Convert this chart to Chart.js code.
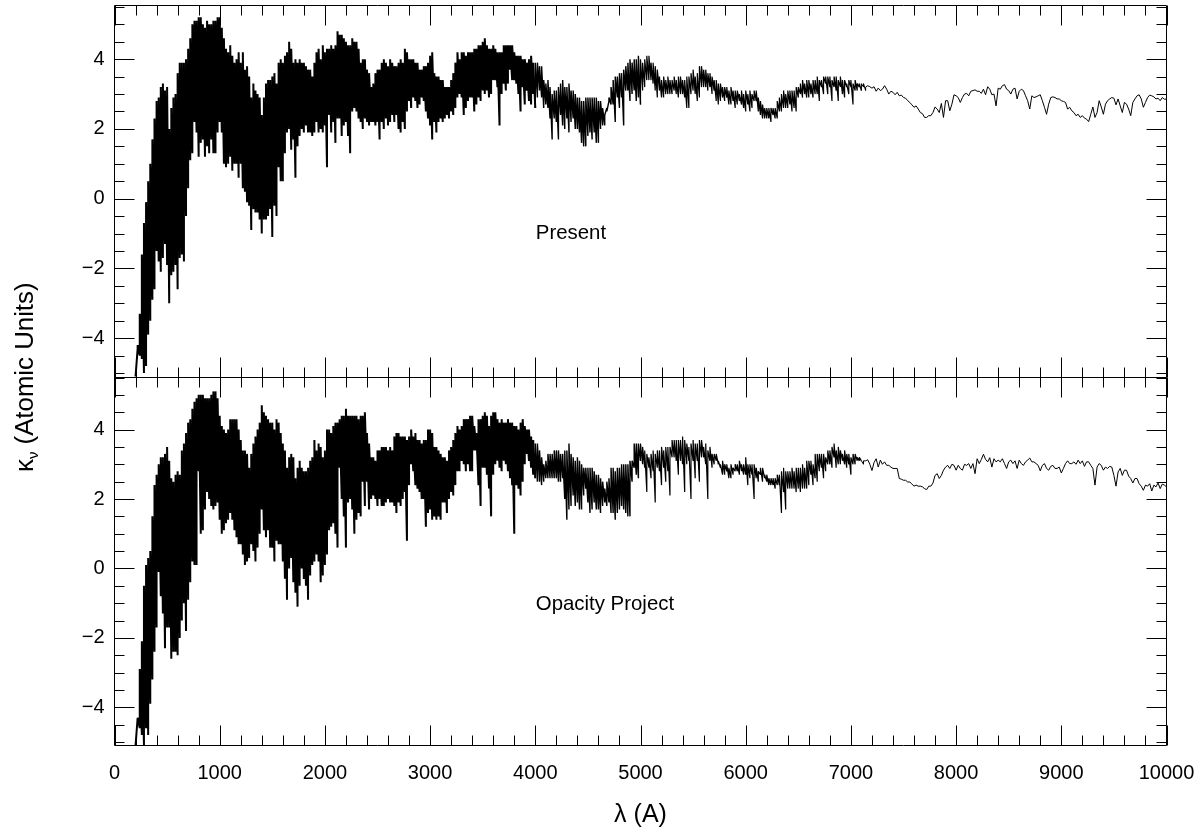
<!DOCTYPE html>
<html>
<head>
<meta charset="utf-8">
<title>Opacity spectra</title>
<script src="https://cdn.jsdelivr.net/npm/chart.js@4"></script>
<style>
  body { margin: 0; background: #fff; }
  canvas { display: block; }
</style>
</head>
<body>
<canvas id="spectra" width="1201" height="831"></canvas>
<script>
// dense part of the spectra, one high and one low reading per 20 A column,
// each row holds 200 A, first row starts at 200 A
const presentHigh = [
  -5.1,-4.2,-3.3,-1.6,-0.7,-0.1,0.5,1.0,1.7,2.3,
  2.8,2.9,3.2,3.3,3.1,3.2,2.0,2.6,2.9,3.0,
  3.6,3.9,3.9,3.9,4.0,4.3,4.6,5.0,5.1,5.1,
  5.2,5.2,5.0,4.9,5.1,5.0,5.0,5.1,5.1,5.2,
  5.2,4.9,4.6,4.3,4.2,4.4,4.1,3.9,4.0,4.2,
  3.9,4.2,3.7,3.8,3.5,2.9,3.3,3.1,3.0,2.9,
  2.4,2.9,3.3,3.4,3.4,3.5,3.6,3.3,3.9,4.0,
  3.9,4.1,4.2,4.5,4.3,3.9,4.0,3.9,4.0,3.9,
  3.9,3.8,3.7,3.7,3.5,3.9,4.2,4.3,4.0,4.4,
  4.2,4.3,4.3,4.4,4.3,4.4,4.8,4.7,4.7,4.6,
  4.5,4.4,4.4,4.6,4.5,4.5,4.3,3.9,4.0,4.0,
  3.7,3.6,3.2,3.3,3.6,3.7,3.7,3.9,4.0,3.9,
  3.8,4.0,3.9,3.8,3.8,3.9,4.0,3.9,4.3,4.2,
  4.0,4.0,4.0,3.9,3.9,3.7,3.7,3.8,3.8,3.9,
  4.1,4.2,3.6,3.5,3.5,3.4,3.4,3.2,3.2,3.2,
  3.4,3.6,3.9,4.2,4.0,4.2,4.2,4.1,4.2,4.2,
  4.2,4.3,4.3,4.4,4.4,4.5,4.6,4.4,4.3,4.3,
  4.4,4.3,4.2,4.2,4.2,4.4,4.4,4.4,4.4,4.4,
  4.2,4.1,4.1,4.1,4.0,4.0,3.9,4.0,4.1,3.9,
  3.9,3.9,3.8,3.8,3.4,3.3,3.4,3.2,3.0,3.1,
  3.1,3.2,3.3,3.4,3.2,3.2,3.3,3.1,3.1,3.0,
  2.9,2.9,2.8,2.8,2.9,2.9,2.9,2.9,2.9,2.9,
  2.8,2.8,2.6,2.4,2.5,2.9,3.2,3.4,3.5,3.5,
  3.6,3.6,3.7,3.8,3.9,4.0,3.9,4.0,4.0,4.1,
  4.0,3.9,4.0,4.1,4.1,3.9,3.9,3.8,3.7,3.5,
  3.4,3.5,3.4,3.5,3.4,3.4,3.5,3.4,3.5,3.5,
  3.4,3.4,3.5,3.5,3.6,3.7,3.5,3.6,3.8,3.8,
  3.7,3.7,3.6,3.6,3.5,3.4,3.4,3.3,3.3,3.2,
  3.2,3.2,3.1,3.2,3.1,3.1,3.1,3.0,3.1,3.0,
  3.1,3.0,3.1,3.0,3.1,3.1,2.9,2.8,2.7,2.6,
  2.6,2.6,2.6,2.6,2.6,2.8,2.9,3.0,3.1,3.0,
  3.1,3.1,3.1,3.1,3.2,3.2,3.3,3.4,3.3,3.4,
  3.4,3.3,3.4,3.4,3.5,3.4,3.4,3.5,3.5,3.5,
  3.5,3.4,3.5,3.5,3.4,3.5,3.4,3.4,3.3,3.4,
  3.4,3.3,3.4,3.3,3.3,3.3,3.3,3.2
];
const presentLow = [
  -5.1,-4.3,-4.5,-4.6,-5.0,-4.8,-3.9,-3.5,-2.9,-2.6,
  -1.5,-1.8,-2.1,-1.7,-1.3,-1.9,-3.0,-2.2,-2.1,-1.9,
  -2.6,-1.7,-1.6,-1.8,-0.5,0.3,1.1,1.3,2.2,1.9,
  1.2,1.6,1.7,1.2,1.5,1.3,1.7,1.3,1.3,1.9,
  2.2,1.9,1.0,0.9,1.0,1.2,0.8,1.0,1.0,0.6,
  1.0,0.3,0.2,-0.1,-0.2,-0.9,-0.3,-0.4,-0.4,-0.6,
  -1.0,-0.6,-0.6,-0.5,-0.3,-1.1,-0.2,-0.5,0.9,0.5,
  0.5,1.3,1.9,2.0,1.4,1.7,0.6,1.5,1.8,2.0,
  1.9,2.1,1.9,1.9,1.8,1.9,2.2,1.9,2.0,1.9,
  2.1,0.9,2.4,1.9,2.2,1.6,2.3,2.3,1.8,2.1,
  2.2,1.8,1.3,2.5,2.6,2.5,2.3,2.2,2.0,2.3,
  2.2,2.1,2.2,2.2,2.1,2.2,1.7,2.2,2.0,2.3,
  2.1,2.2,2.4,2.2,2.4,2.0,1.9,2.2,2.0,2.5,
  2.8,2.6,2.9,2.8,2.6,2.7,2.9,2.8,2.5,2.3,
  2.1,1.7,2.2,1.9,2.2,2.3,2.2,2.3,2.4,2.3,
  2.5,2.4,2.6,2.9,3.0,2.9,2.4,2.6,2.8,2.9,
  2.9,2.5,2.7,2.9,2.8,3.1,3.0,3.1,2.9,3.0,
  3.4,3.4,3.2,2.1,3.0,3.3,3.1,3.3,3.7,3.4,
  3.4,3.3,3.0,2.5,3.2,2.7,3.1,2.8,2.7,3.0,
  2.6,2.9,3.1,2.9,2.6,2.7,2.6,2.3,1.7,2.3,
  2.2,1.7,2.4,2.1,2.0,2.3,1.9,2.2,2.3,2.0,
  2.0,1.9,1.6,1.5,1.5,1.8,1.9,1.7,1.9,1.6,
  1.6,2.0,2.1,2.1,2.6,2.8,2.7,2.7,2.2,2.9,
  2.6,2.9,2.1,3.1,3.1,2.8,3.0,3.1,2.8,2.9,
  2.7,3.1,3.2,3.4,3.4,3.4,3.3,3.1,2.9,3.1,
  2.9,2.9,3.0,3.0,3.0,3.0,3.1,3.0,2.9,3.0,
  3.0,2.9,2.6,2.6,3.0,3.1,3.0,2.8,2.9,3.2,
  3.2,3.2,3.1,3.2,3.0,3.1,2.8,2.7,2.8,2.9,
  2.8,2.9,2.7,2.7,2.8,2.6,2.7,2.8,2.7,2.6,
  2.5,2.7,2.5,2.6,2.8,2.8,2.5,2.4,2.3,2.3,
  2.3,2.3,2.2,2.4,2.3,2.3,2.5,2.5,2.6,2.6,
  2.6,2.7,2.5,2.6,2.5,2.9,3.0,2.9,3.0,2.9,
  2.9,3.0,2.9,3.0,3.0,2.8,3.2,3.0,3.3,3.0,
  3.2,2.8,3.2,3.1,2.8,3.2,3.0,2.9,3.2,3.0,
  3.2,2.7,3.1,3.1,3.2,3.1,3.2,3.1
];
const opacityHigh = [
  -5.1,-4.3,-2.9,-2.1,-0.5,0.1,0.3,0.5,1.5,2.4,
  2.7,3.0,3.2,3.2,3.3,3.5,3.1,2.6,2.5,2.7,
  2.8,2.7,3.4,3.6,3.9,4.2,4.3,4.6,4.8,4.9,
  5.0,5.0,5.0,4.9,4.9,4.9,5.0,5.1,5.1,4.9,
  4.4,4.1,4.0,3.9,4.0,4.3,4.3,4.3,4.3,4.0,
  3.7,3.4,3.4,3.3,2.9,3.3,3.6,3.8,4.0,4.2,
  4.7,4.5,4.4,4.3,4.2,4.2,4.0,4.3,4.2,3.9,
  3.6,3.4,2.9,3.2,3.3,3.2,2.6,2.9,3.1,2.9,
  2.8,2.8,2.9,3.1,3.2,3.7,3.4,3.6,3.5,3.2,
  3.4,4.0,4.0,3.9,4.1,4.2,4.2,4.3,4.4,4.4,
  4.6,4.4,4.4,4.4,4.4,4.4,4.3,4.4,4.4,4.5,
  3.9,3.6,3.2,3.2,3.1,3.4,3.4,3.5,3.5,3.5,
  3.4,3.5,3.4,3.8,3.9,3.9,3.8,3.8,3.8,3.7,
  3.8,4.0,3.8,3.9,3.7,3.7,3.6,3.7,3.7,4.0,
  4.0,3.9,3.5,3.5,3.4,3.3,3.2,3.2,3.1,3.4,
  3.5,3.7,3.9,4.1,4.0,4.1,4.3,4.3,4.3,4.4,
  4.4,4.1,3.9,4.3,4.3,4.4,4.5,4.4,4.1,4.4,
  4.5,4.5,4.3,4.2,4.3,4.2,4.2,4.3,4.2,4.2,
  4.1,4.1,4.0,4.2,4.3,4.1,4.0,4.0,3.8,3.7,
  3.6,3.6,3.4,3.2,3.0,3.1,3.3,3.3,3.3,3.4,
  3.4,3.4,3.3,3.3,3.4,3.4,3.6,3.3,3.2,3.1,
  3.2,3.1,3.0,2.9,2.9,2.9,2.9,2.9,2.8,2.7,
  2.7,2.6,2.5,2.3,2.5,2.6,2.9,2.9,2.8,2.9,
  2.9,3.0,3.0,3.0,3.0,3.1,3.1,3.6,3.6,3.6,
  3.6,3.5,3.4,3.3,3.2,3.3,3.4,3.3,3.4,3.4,
  3.5,3.4,3.5,3.5,3.5,3.7,3.7,3.7,3.7,3.7,
  3.8,3.7,3.6,3.5,3.6,3.7,3.6,3.6,3.7,3.7,
  3.5,3.6,3.4,3.5,3.3,3.3,3.3,3.1,3.0,3.1,
  3.0,3.0,2.9,3.0,2.9,3.0,3.0,3.1,3.0,3.0,
  3.2,3.0,3.0,3.0,3.0,2.9,2.8,2.9,2.9,2.7,
  2.7,2.6,2.6,2.6,2.6,2.7,2.7,2.8,2.9,2.8,
  2.8,2.8,2.9,2.8,2.9,2.9,2.9,3.0,2.9,3.1,
  3.1,3.1,3.0,3.3,3.3,3.3,3.3,3.3,3.2,3.4,
  3.4,3.5,3.6,3.4,3.5,3.4,3.3,3.4,3.3,3.3,
  3.2,3.3,3.3,3.2,3.2,3.1,3.1,3.1
];
const opacityLow = [
  -5.1,-4.3,-4.6,-4.8,-5.1,-4.6,-4.8,-3.9,-3.2,-2.4,
  -1.7,-0.1,-0.8,-1.3,-2.3,-1.7,-1.7,-2.6,-2.4,-2.4,
  -2.5,-2.0,-1.5,-1.0,-1.8,-0.9,-0.4,0.2,0.1,0.1,
  2.8,1.0,1.1,1.7,2.2,2.0,1.8,1.7,1.8,1.9,
  1.4,1.0,1.1,1.3,1.4,1.6,1.4,1.1,0.9,0.7,
  0.7,0.4,0.1,0.2,0.3,0.7,0.5,0.2,0.6,1.0,
  1.7,1.1,0.9,1.1,0.6,0.6,0.2,0.8,0.7,0.7,
  0.2,-0.3,-0.9,0.0,0.3,-0.4,-0.7,-1.1,-0.5,0.0,
  -0.3,-0.5,-0.9,-0.2,0.1,0.2,0.4,0.2,-0.4,-0.2,
  0.1,0.4,1.1,1.2,1.3,1.0,0.6,2.9,2.0,1.5,
  0.6,1.9,2.0,1.7,1.0,1.4,1.6,1.5,2.5,1.8,
  2.5,1.7,2.0,2.1,2.0,1.8,2.0,1.8,1.8,1.9,
  2.0,1.9,1.9,1.8,1.6,1.9,1.8,2.0,2.2,0.8,
  2.4,3.0,2.8,2.4,2.3,2.2,2.0,2.0,1.2,1.6,
  1.7,1.4,1.5,1.4,1.5,1.4,1.9,1.9,1.6,2.0,
  2.2,2.1,2.4,2.8,2.8,3.1,3.0,2.8,3.0,2.8,
  2.8,3.4,3.4,2.4,1.8,2.9,2.9,2.7,2.3,1.5,
  2.7,3.0,3.1,2.9,2.8,3.1,3.0,2.8,2.6,2.4,
  1.0,2.4,2.3,2.1,2.5,3.0,3.3,3.1,2.9,2.7,
  2.6,2.5,2.5,2.4,2.5,2.6,2.6,2.6,2.6,2.6,
  2.6,2.5,2.5,2.6,2.0,1.4,1.7,1.8,2.1,1.8,
  1.9,1.7,1.7,2.1,2.3,1.9,1.6,1.7,1.9,1.7,
  1.7,1.6,1.8,1.9,1.8,1.9,1.6,1.6,1.4,1.6,
  1.7,1.8,1.7,1.6,1.5,1.5,2.5,2.9,2.7,2.6,
  3.1,3.0,2.9,2.2,2.9,2.6,2.8,1.9,2.9,2.8,
  2.4,2.9,2.5,2.8,2.1,3.2,3.2,3.1,2.7,3.1,
  3.0,2.2,3.0,3.1,2.0,3.1,2.6,3.1,2.5,3.2,
  3.2,3.0,2.0,3.1,2.9,3.0,3.1,3.0,2.9,2.7,
  2.7,2.8,2.6,2.6,2.7,2.8,2.8,2.7,2.8,2.7,
  2.7,2.4,2.6,2.7,2.0,2.6,2.5,2.7,2.5,2.6,
  2.5,2.4,2.4,2.4,2.3,2.4,2.4,1.6,2.2,1.7,
  2.3,2.3,2.3,2.3,2.2,2.3,2.2,2.3,2.3,2.3,
  2.4,2.7,2.4,2.6,2.5,2.8,2.9,2.6,2.8,3.0,
  3.0,2.9,3.2,2.9,3.0,3.0,3.1,3.0,2.9,3.0,
  2.7,3.0,3.0,3.1,3.1,3.1,3.0,3.1
];

// smooth tail of each spectrum, one reading per 20 A from 7160 A to 10000 A
const presentTail = [
  3.24,3.21,3.17,3.21,3.08,3.17,3.10,3.14,3.24,3.14,3.00,3.08,3.05,2.98,3.05,2.95,2.97,2.90,2.88,2.81,
  2.76,2.69,2.62,2.66,2.57,2.47,2.44,2.33,2.33,2.38,2.38,2.47,2.63,2.57,2.47,2.73,2.33,2.81,2.81,2.52,
  2.71,2.98,2.95,2.90,2.76,2.90,3.00,3.02,2.95,3.08,3.10,3.12,3.08,3.08,3.02,3.14,2.98,3.21,3.14,2.98,
  3.00,2.66,3.17,3.14,3.24,3.27,3.14,3.10,3.00,3.14,3.17,2.86,3.08,3.14,3.10,2.95,2.81,2.57,2.95,2.90,
  2.92,2.95,2.98,2.81,2.62,2.42,2.71,2.90,2.92,2.90,2.86,2.86,2.81,2.79,2.76,2.57,2.62,2.52,2.47,2.38,
  2.42,2.33,2.38,2.31,2.28,2.21,2.42,2.63,2.33,2.47,2.81,2.63,2.42,2.71,2.81,2.86,2.90,2.88,2.69,2.86,
  2.66,2.47,2.76,2.71,2.57,2.38,2.76,2.86,2.95,2.98,2.86,2.62,2.76,2.90,2.97,2.95,2.92,2.86,2.88,2.81,
  2.90,2.85,2.86
];
const opacityTail = [
  3.13,3.00,2.82,3.05,3.16,2.92,3.12,3.00,3.07,2.97,2.97,2.92,2.88,2.88,2.88,2.59,2.57,2.54,2.54,2.49,
  2.49,2.43,2.37,2.40,2.37,2.37,2.35,2.30,2.27,2.37,2.37,2.46,2.68,2.73,2.59,2.68,2.83,2.92,2.97,2.88,
  3.00,2.97,2.83,2.97,2.88,2.83,3.00,2.97,3.02,2.88,3.02,2.73,3.16,3.02,3.14,3.29,3.14,3.07,3.19,2.92,
  3.16,3.07,3.12,3.07,3.16,3.02,2.88,3.07,3.12,3.02,3.10,2.88,3.12,3.02,2.97,3.07,3.12,3.18,3.07,3.07,
  3.02,2.97,2.81,2.97,3.02,2.88,2.83,2.94,2.97,2.88,2.88,2.92,2.75,2.88,3.02,3.10,3.02,3.02,3.07,3.00,
  3.12,3.02,3.10,2.94,3.07,3.07,2.97,2.88,2.40,2.92,3.02,2.97,2.83,2.92,2.88,2.94,2.92,2.68,2.37,2.78,
  2.88,2.68,2.83,2.83,2.66,2.59,2.46,2.59,2.59,2.44,2.37,2.25,2.40,2.37,2.44,2.23,2.40,2.35,2.46,2.30,
  2.43,2.40,2.35
];

const panelNotes = ["Present", "Opacity Project"];
const xTicks = { min: 0, max: 10000, minor: 200, major: 1000 };
const yTicks = { topMin: -5.13, topMax: 5.54, bottomMin: -5.1, bottomMax: 5.5, minor: 0.5, major: 2 };

function spectrum(high, low, tail) {
  const pts = [];
  // column of low and high reading gives the solid band
  for (let i = 0; i < high.length; i++) {
    const wave = 200 + i * 20;
    pts.push({ x: wave, y: low[i] });
    pts.push({ x: wave, y: high[i] });
  }
  tail.forEach((v, i) => pts.push({ x: 7160 + i * 20, y: v }));
  return pts;
}

// thick inside the dark band, thin where the single line shows
const bandWidth = (ctx) => {
  const w = ctx.p0.parsed.x;
  if (w < 4000) return 2;
  if (w < 5000) return 1.4;
  if (w < 7100) return 1.2;
  return 1;
};

// ticks on all four sides point inward, and the box round each panel
const frameTicks = {
  id: "frameTicks",
  afterDatasetsDraw(chart) {
    const c = chart.ctx;
    const x = chart.scales.x;
    const area = chart.chartArea;
    c.save();
    c.strokeStyle = "#000";
    c.lineWidth = 1;
    c.beginPath();
    [chart.scales.yTop, chart.scales.yBottom].forEach((s) => {
      c.rect(area.left, s.top, area.right - area.left, s.bottom - s.top);
      x.ticks.forEach((t) => {
        const len = t.value % xTicks.major === 0 ? 20 : 10;
        const px = Math.round(x.getPixelForValue(t.value)) + 0.5;
        c.moveTo(px, s.top);
        c.lineTo(px, s.top + len);
        c.moveTo(px, s.bottom);
        c.lineTo(px, s.bottom - len);
      });
      s.ticks.forEach((t) => {
        const len = t.value % yTicks.major === 0 ? 20 : 10;
        const py = Math.round(s.getPixelForValue(t.value)) + 0.5;
        c.moveTo(area.left, py);
        c.lineTo(area.left + len, py);
        c.moveTo(area.right, py);
        c.lineTo(area.right - len, py);
      });
    });
    c.stroke();

    // panel names
    c.fillStyle = "#000";
    c.font = "20.4px 'Liberation Sans'";
    c.textBaseline = "middle";
    c.fillText(panelNotes[0], x.getPixelForValue(4005), chart.scales.yTop.getPixelForValue(-1));
    c.fillText(panelNotes[1], x.getPixelForValue(4005), chart.scales.yBottom.getPixelForValue(-1.03));

    // y title, the nu is a small subscript
    c.translate(25, 472);
    c.rotate(-Math.PI / 2);
    c.textBaseline = "alphabetic";
    c.textAlign = "left";
    c.translate(0, 8);
    c.font = "25.8px 'Liberation Sans'";
    c.fillText("κ", 0, 0);
    let pos = c.measureText("κ").width;
    c.font = "15px 'Liberation Sans'";
    c.fillText("ν", pos, 5);
    pos += c.measureText("ν").width;
    c.font = "25.8px 'Liberation Sans'";
    c.fillText(" (Atomic Units)", pos, 0);
    c.restore();
  },
};

const yAxis = (min, max, weight) => ({
  type: "linear",
  position: "left",
  stack: "panels",
  stackWeight: weight,
  min: min,
  max: max,
  grid: { display: false, drawTicks: false },
  border: { display: false },
  afterFit: (s) => {
    s.width = 114.5;
    s.paddingTop = 0;
    s.paddingBottom = 0;
  },
  ticks: {
    stepSize: yTicks.minor,
    includeBounds: false,
    autoSkip: false,
    padding: 10,
    color: "#000",
    font: { family: "'Liberation Sans'", size: 20 },
    callback: (v) => (v % yTicks.major === 0 ? String(v).replace("-", "\u2212") : ""),
  },
});

new Chart(document.getElementById("spectra"), {
  type: "line",
  data: {
    datasets: [
      { label: "Present", data: spectrum(presentHigh, presentLow, presentTail), yAxisID: "yTop" },
      { label: "Opacity Project", data: spectrum(opacityHigh, opacityLow, opacityTail), yAxisID: "yBottom" },
    ].map((d) => ({
      ...d,
      borderColor: "#000",
      borderWidth: 1,
      borderJoinStyle: "bevel",
      pointRadius: 0,
      tension: 0,
      segment: { borderWidth: bandWidth },
    })),
  },
  plugins: [frameTicks],
  options: {
    responsive: false,
    animation: false,
    devicePixelRatio: 1,
    layout: { padding: { top: 5.5, right: 34.5, left: 0, bottom: 0 } },
    plugins: { legend: { display: false }, tooltip: { enabled: false } },
    scales: {
      x: {
        type: "linear",
        min: xTicks.min,
        max: xTicks.max,
        grid: { display: false, drawTicks: false },
        border: { display: false },
        afterFit: (s) => {
          s.height = 85.5;
          s.paddingLeft = 0;
          s.paddingRight = 0;
        },
        title: {
          display: true,
          text: "λ (A)",
          color: "#000",
          font: { family: "'Liberation Sans'", size: 25 },
          padding: { top: 0, bottom: 1 },
        },
        ticks: {
          stepSize: xTicks.minor,
          autoSkip: false,
          maxRotation: 0,
          padding: 16,
          color: "#000",
          font: { family: "'Liberation Sans'", size: 20 },
          callback: (v) => (v % xTicks.major === 0 ? String(v) : ""),
        },
      },
      yBottom: yAxis(yTicks.bottomMin, yTicks.bottomMax, 368),
      yTop: yAxis(yTicks.topMin, yTicks.topMax, 372),
    },
  },
});
</script>
</body>
</html>
